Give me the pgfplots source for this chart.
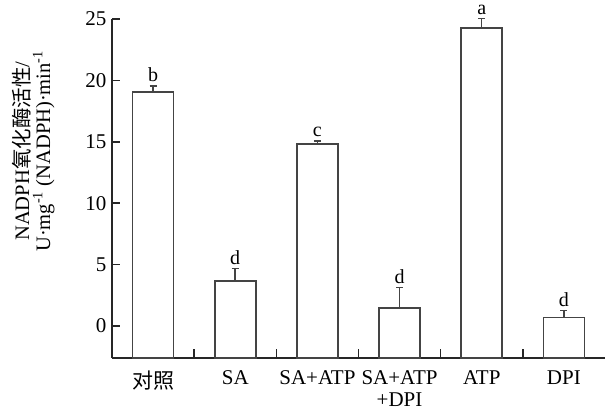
\documentclass[border=0pt]{standalone}
\usepackage{pgfplots}
\pgfplotsset{compat=1.18}
\usepackage{fontspec}
\setmainfont{Liberation Serif}
\newfontfamily\cjk{Noto Sans CJK SC}
\definecolor{barline}{HTML}{444444}
\begin{document}
\begin{tikzpicture}
\useasboundingbox (-112pt,-57pt) rectangle (493pt,358pt);
\begin{axis}[
  scale only axis, width=493pt, height=339pt,
  xmin=-0.5, xmax=5.5, ymin=-2.6, ymax=25,
  y coord trafo/.code={\pgfmathparse{#1+2.6}},
  y coord inv trafo/.code={\pgfmathparse{#1-2.6}},
  axis x line=bottom, axis y line=left,
  axis line style={-, line width=1.6pt, black!85},
  /pgf/number format/assume math mode=true,
  ytick={0,5,10,15,20,25},
  yticklabels={0,5,10,15,20,25},
  tick align=inside, major tick length=8pt,
  ytick style={line width=1.6pt, black!85},
  xtick={0,1,2,3,4,5},
  xticklabels={{\cjk 对照}, SA, SA+ATP, {SA+ATP\\+DPI}, ATP, DPI},
  xtick style={draw=none},
  extra x ticks={0.5,1.5,2.5,3.5,4.5},
  extra x tick labels={},
  extra x tick style={xtick style={draw=black!85, line width=1.6pt}, major tick length=9pt},
  tick label style={font=\fontsize{21}{22}\selectfont},
  xticklabel style={align=center, yshift=-9pt},
  yticklabel style={xshift=-2pt},
  ylabel={NADPH{\cjk 氧化酶活性}/\\U·mg\textsuperscript{-1} (NADPH)·min\textsuperscript{-1}},
  ylabel style={align=center, font=\fontsize{20.5}{21}\selectfont, at={(axis description cs:-0.16,0.61)}, anchor=center},
  clip=false,
]
\addplot[ybar, bar width=0.5, fill=white, draw=barline, line width=1.6pt,
  error bars/.cd, y dir=plus, y explicit,
  error bar style={line width=1.5pt, barline},
  error mark options={rotate=90, mark size=3.5pt, line width=1.5pt, barline}]
  coordinates {
  (0,19.07) +- (0,0.46)
  (1,3.69) +- (0,0.98)
  (2,14.81) +- (0,0.27)
  (3,1.49) +- (0,1.63)
  (4,24.26) +- (0,0.78)
  (5,0.71) +- (0,0.54)
  };
\addplot[draw=none, mark=none, nodes near coords, point meta=explicit symbolic,
  every node near coord/.style={anchor=south, inner sep=0pt, yshift=4pt, font=\fontsize{20}{22}\selectfont}]
  coordinates {
  (0,19.53) [b]
  (1,4.67) [d]
  (2,15.08) [c]
  (3,3.12) [d]
  (4,25.04) [a]
  (5,1.25) [d]
  };
\end{axis}
\end{tikzpicture}
\end{document}
